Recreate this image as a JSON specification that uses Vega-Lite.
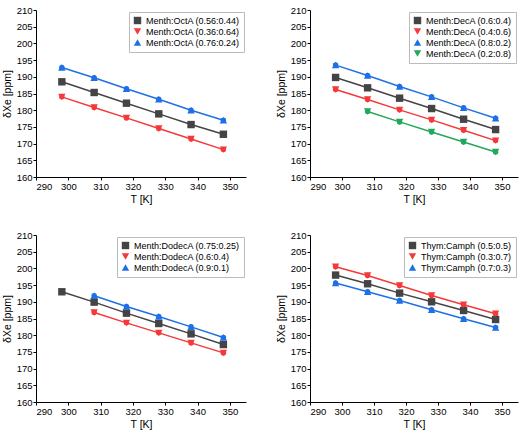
{
  "$schema": "https://vega.github.io/schema/vega-lite/v6.json",
  "background": "white",
  "padding": {"left": 2, "top": 5, "right": 1, "bottom": 2},
  "spacing": 25,
  "resolve": {"scale": {"color": "independent", "shape": "independent"}, "legend": {"color": "independent", "shape": "independent"}},
  "config": {
    "font": "Liberation Sans",
    "view": {"stroke": null},
    "axis": {
      "grid": false,
      "domainColor": "#000",
      "tickColor": "#000",
      "labelColor": "#000",
      "titleColor": "#000",
      "labelFontSize": 9.5,
      "titleFontSize": 10.5,
      "titleFontWeight": "normal",
      "tickSize": 3,
      "labelPadding": 1,
      "domainWidth": 1
    },
    "legend": {
      "orient": "top-right",
      "offset": 2,
      "padding": 4,
      "strokeColor": "#bbbbbb",
      "fillColor": "white",
      "labelFontSize": 9,
      "labelColor": "#000",
      "symbolSize": 55,
      "rowPadding": 1,
      "labelLimit": 300,
      "symbolStrokeWidth": 0
    },
    "concat": {"spacing": 30}
  },
  "vconcat": [
    {
      "resolve": {"scale": {"color": "independent", "shape": "independent"}, "legend": {"color": "independent", "shape": "independent"}},
      "hconcat": [
        {
          "width": 210, "height": 167,
          "data": {"values": [
            {"s": "Menth:OctA (0.56:0.44)", "T": 298, "d": 188.5},
            {"s": "Menth:OctA (0.56:0.44)", "T": 308, "d": 185.3},
            {"s": "Menth:OctA (0.56:0.44)", "T": 318, "d": 182.1},
            {"s": "Menth:OctA (0.56:0.44)", "T": 328, "d": 178.9},
            {"s": "Menth:OctA (0.56:0.44)", "T": 338, "d": 175.7},
            {"s": "Menth:OctA (0.56:0.44)", "T": 348, "d": 172.8},
            {"s": "Menth:OctA (0.36:0.64)", "T": 298, "d": 184.0},
            {"s": "Menth:OctA (0.36:0.64)", "T": 308, "d": 180.8},
            {"s": "Menth:OctA (0.36:0.64)", "T": 318, "d": 177.7},
            {"s": "Menth:OctA (0.36:0.64)", "T": 328, "d": 174.5},
            {"s": "Menth:OctA (0.36:0.64)", "T": 338, "d": 171.4},
            {"s": "Menth:OctA (0.36:0.64)", "T": 348, "d": 168.2},
            {"s": "Menth:OctA (0.76:0.24)", "T": 298, "d": 192.8},
            {"s": "Menth:OctA (0.76:0.24)", "T": 308, "d": 189.7},
            {"s": "Menth:OctA (0.76:0.24)", "T": 318, "d": 186.4},
            {"s": "Menth:OctA (0.76:0.24)", "T": 328, "d": 183.3},
            {"s": "Menth:OctA (0.76:0.24)", "T": 338, "d": 180.0},
            {"s": "Menth:OctA (0.76:0.24)", "T": 348, "d": 177.0}
          ]},
          "encoding": {
            "x": {"field": "T", "type": "quantitative", "scale": {"domain": [290, 355], "nice": false, "zero": false}, "axis": {"values": [290, 300, 310, 320, 330, 340, 350], "title": "T [K]"}},
            "y": {"field": "d", "type": "quantitative", "scale": {"domain": [160, 210], "nice": false, "zero": false}, "axis": {"values": [160, 165, 170, 175, 180, 185, 190, 195, 200, 205, 210], "title": "δXe [ppm]"}},
            "color": {"field": "s", "type": "nominal", "sort": null, "scale": {"domain": ["Menth:OctA (0.56:0.44)", "Menth:OctA (0.36:0.64)", "Menth:OctA (0.76:0.24)"], "range": ["#444444", "#f5393a", "#1f70e6"]}, "legend": {"title": null}},
            "shape": {"field": "s", "type": "nominal", "sort": null, "scale": {"domain": ["Menth:OctA (0.56:0.44)", "Menth:OctA (0.36:0.64)", "Menth:OctA (0.76:0.24)"], "range": ["square", "triangle-down", "triangle-up"]}, "legend": {"title": null}}
          },
          "layer": [
            {"mark": {"type": "line", "strokeWidth": 1.5}, "encoding": {"shape": {"value": null}}},
            {"mark": {"type": "point", "filled": true, "size": 55, "opacity": 1}}
          ]
        },
        {
          "width": 208, "height": 167,
          "data": {"values": [
            {"s": "Menth:DecA (0.6:0.4)", "T": 298, "d": 189.8},
            {"s": "Menth:DecA (0.6:0.4)", "T": 308, "d": 186.7},
            {"s": "Menth:DecA (0.6:0.4)", "T": 318, "d": 183.6},
            {"s": "Menth:DecA (0.6:0.4)", "T": 328, "d": 180.5},
            {"s": "Menth:DecA (0.6:0.4)", "T": 338, "d": 177.3},
            {"s": "Menth:DecA (0.6:0.4)", "T": 348, "d": 174.2},
            {"s": "Menth:DecA (0.4:0.6)", "T": 298, "d": 186.2},
            {"s": "Menth:DecA (0.4:0.6)", "T": 308, "d": 183.2},
            {"s": "Menth:DecA (0.4:0.6)", "T": 318, "d": 180.1},
            {"s": "Menth:DecA (0.4:0.6)", "T": 328, "d": 177.1},
            {"s": "Menth:DecA (0.4:0.6)", "T": 338, "d": 174.0},
            {"s": "Menth:DecA (0.4:0.6)", "T": 348, "d": 170.9},
            {"s": "Menth:DecA (0.8:0.2)", "T": 298, "d": 193.5},
            {"s": "Menth:DecA (0.8:0.2)", "T": 308, "d": 190.4},
            {"s": "Menth:DecA (0.8:0.2)", "T": 318, "d": 187.1},
            {"s": "Menth:DecA (0.8:0.2)", "T": 328, "d": 184.0},
            {"s": "Menth:DecA (0.8:0.2)", "T": 338, "d": 180.7},
            {"s": "Menth:DecA (0.8:0.2)", "T": 348, "d": 177.6},
            {"s": "Menth:DecA (0.2:0.8)", "T": 308, "d": 179.6},
            {"s": "Menth:DecA (0.2:0.8)", "T": 318, "d": 176.5},
            {"s": "Menth:DecA (0.2:0.8)", "T": 328, "d": 173.5},
            {"s": "Menth:DecA (0.2:0.8)", "T": 338, "d": 170.5},
            {"s": "Menth:DecA (0.2:0.8)", "T": 348, "d": 167.5}
          ]},
          "encoding": {
            "x": {"field": "T", "type": "quantitative", "scale": {"domain": [290, 355], "nice": false, "zero": false}, "axis": {"values": [290, 300, 310, 320, 330, 340, 350], "title": "T [K]"}},
            "y": {"field": "d", "type": "quantitative", "scale": {"domain": [160, 210], "nice": false, "zero": false}, "axis": {"values": [160, 165, 170, 175, 180, 185, 190, 195, 200, 205, 210], "title": "δXe [ppm]"}},
            "color": {"field": "s", "type": "nominal", "sort": null, "scale": {"domain": ["Menth:DecA (0.6:0.4)", "Menth:DecA (0.4:0.6)", "Menth:DecA (0.8:0.2)", "Menth:DecA (0.2:0.8)"], "range": ["#444444", "#f5393a", "#1f70e6", "#22a85a"]}, "legend": {"title": null}},
            "shape": {"field": "s", "type": "nominal", "sort": null, "scale": {"domain": ["Menth:DecA (0.6:0.4)", "Menth:DecA (0.4:0.6)", "Menth:DecA (0.8:0.2)", "Menth:DecA (0.2:0.8)"], "range": ["square", "triangle-down", "triangle-up", "triangle-down"]}, "legend": {"title": null}}
          },
          "layer": [
            {"mark": {"type": "line", "strokeWidth": 1.5}, "encoding": {"shape": {"value": null}}},
            {"mark": {"type": "point", "filled": true, "size": 55, "opacity": 1}}
          ]
        }
      ]
    },
    {
      "resolve": {"scale": {"color": "independent", "shape": "independent"}, "legend": {"color": "independent", "shape": "independent"}},
      "hconcat": [
        {
          "width": 210, "height": 167,
          "data": {"values": [
            {"s": "Menth:DodecA (0.75:0.25)", "T": 298, "d": 193.0},
            {"s": "Menth:DodecA (0.75:0.25)", "T": 308, "d": 189.9},
            {"s": "Menth:DodecA (0.75:0.25)", "T": 318, "d": 186.6},
            {"s": "Menth:DodecA (0.75:0.25)", "T": 328, "d": 183.5},
            {"s": "Menth:DodecA (0.75:0.25)", "T": 338, "d": 180.4},
            {"s": "Menth:DodecA (0.75:0.25)", "T": 348, "d": 177.2},
            {"s": "Menth:DodecA (0.6:0.4)", "T": 308, "d": 186.8},
            {"s": "Menth:DodecA (0.6:0.4)", "T": 318, "d": 183.7},
            {"s": "Menth:DodecA (0.6:0.4)", "T": 328, "d": 180.7},
            {"s": "Menth:DodecA (0.6:0.4)", "T": 338, "d": 177.7},
            {"s": "Menth:DodecA (0.6:0.4)", "T": 348, "d": 174.7},
            {"s": "Menth:DodecA (0.9:0.1)", "T": 308, "d": 191.8},
            {"s": "Menth:DodecA (0.9:0.1)", "T": 318, "d": 188.6},
            {"s": "Menth:DodecA (0.9:0.1)", "T": 328, "d": 185.6},
            {"s": "Menth:DodecA (0.9:0.1)", "T": 338, "d": 182.5},
            {"s": "Menth:DodecA (0.9:0.1)", "T": 348, "d": 179.3}
          ]},
          "encoding": {
            "x": {"field": "T", "type": "quantitative", "scale": {"domain": [290, 355], "nice": false, "zero": false}, "axis": {"values": [290, 300, 310, 320, 330, 340, 350], "title": "T [K]"}},
            "y": {"field": "d", "type": "quantitative", "scale": {"domain": [160, 210], "nice": false, "zero": false}, "axis": {"values": [160, 165, 170, 175, 180, 185, 190, 195, 200, 205, 210], "title": "δXe [ppm]"}},
            "color": {"field": "s", "type": "nominal", "sort": null, "scale": {"domain": ["Menth:DodecA (0.75:0.25)", "Menth:DodecA (0.6:0.4)", "Menth:DodecA (0.9:0.1)"], "range": ["#444444", "#f5393a", "#1f70e6"]}, "legend": {"title": null}},
            "shape": {"field": "s", "type": "nominal", "sort": null, "scale": {"domain": ["Menth:DodecA (0.75:0.25)", "Menth:DodecA (0.6:0.4)", "Menth:DodecA (0.9:0.1)"], "range": ["square", "triangle-down", "triangle-up"]}, "legend": {"title": null}}
          },
          "layer": [
            {"mark": {"type": "line", "strokeWidth": 1.5}, "encoding": {"shape": {"value": null}}},
            {"mark": {"type": "point", "filled": true, "size": 55, "opacity": 1}}
          ]
        },
        {
          "width": 208, "height": 167,
          "data": {"values": [
            {"s": "Thym:Camph (0.5:0.5)", "T": 298, "d": 198.0},
            {"s": "Thym:Camph (0.5:0.5)", "T": 308, "d": 195.4},
            {"s": "Thym:Camph (0.5:0.5)", "T": 318, "d": 192.6},
            {"s": "Thym:Camph (0.5:0.5)", "T": 328, "d": 190.0},
            {"s": "Thym:Camph (0.5:0.5)", "T": 338, "d": 187.4},
            {"s": "Thym:Camph (0.5:0.5)", "T": 348, "d": 184.7},
            {"s": "Thym:Camph (0.3:0.7)", "T": 298, "d": 200.5},
            {"s": "Thym:Camph (0.3:0.7)", "T": 308, "d": 197.9},
            {"s": "Thym:Camph (0.3:0.7)", "T": 318, "d": 194.9},
            {"s": "Thym:Camph (0.3:0.7)", "T": 328, "d": 191.9},
            {"s": "Thym:Camph (0.3:0.7)", "T": 338, "d": 189.1},
            {"s": "Thym:Camph (0.3:0.7)", "T": 348, "d": 186.4},
            {"s": "Thym:Camph (0.7:0.3)", "T": 298, "d": 195.6},
            {"s": "Thym:Camph (0.7:0.3)", "T": 308, "d": 193.0},
            {"s": "Thym:Camph (0.7:0.3)", "T": 318, "d": 190.4},
            {"s": "Thym:Camph (0.7:0.3)", "T": 328, "d": 187.6},
            {"s": "Thym:Camph (0.7:0.3)", "T": 338, "d": 184.9},
            {"s": "Thym:Camph (0.7:0.3)", "T": 348, "d": 182.3}
          ]},
          "encoding": {
            "x": {"field": "T", "type": "quantitative", "scale": {"domain": [290, 355], "nice": false, "zero": false}, "axis": {"values": [290, 300, 310, 320, 330, 340, 350], "title": "T [K]"}},
            "y": {"field": "d", "type": "quantitative", "scale": {"domain": [160, 210], "nice": false, "zero": false}, "axis": {"values": [160, 165, 170, 175, 180, 185, 190, 195, 200, 205, 210], "title": "δXe [ppm]"}},
            "color": {"field": "s", "type": "nominal", "sort": null, "scale": {"domain": ["Thym:Camph (0.5:0.5)", "Thym:Camph (0.3:0.7)", "Thym:Camph (0.7:0.3)"], "range": ["#444444", "#f5393a", "#1f70e6"]}, "legend": {"title": null}},
            "shape": {"field": "s", "type": "nominal", "sort": null, "scale": {"domain": ["Thym:Camph (0.5:0.5)", "Thym:Camph (0.3:0.7)", "Thym:Camph (0.7:0.3)"], "range": ["square", "triangle-down", "triangle-up"]}, "legend": {"title": null}}
          },
          "layer": [
            {"mark": {"type": "line", "strokeWidth": 1.5}, "encoding": {"shape": {"value": null}}},
            {"mark": {"type": "point", "filled": true, "size": 55, "opacity": 1}}
          ]
        }
      ]
    }
  ]
}
